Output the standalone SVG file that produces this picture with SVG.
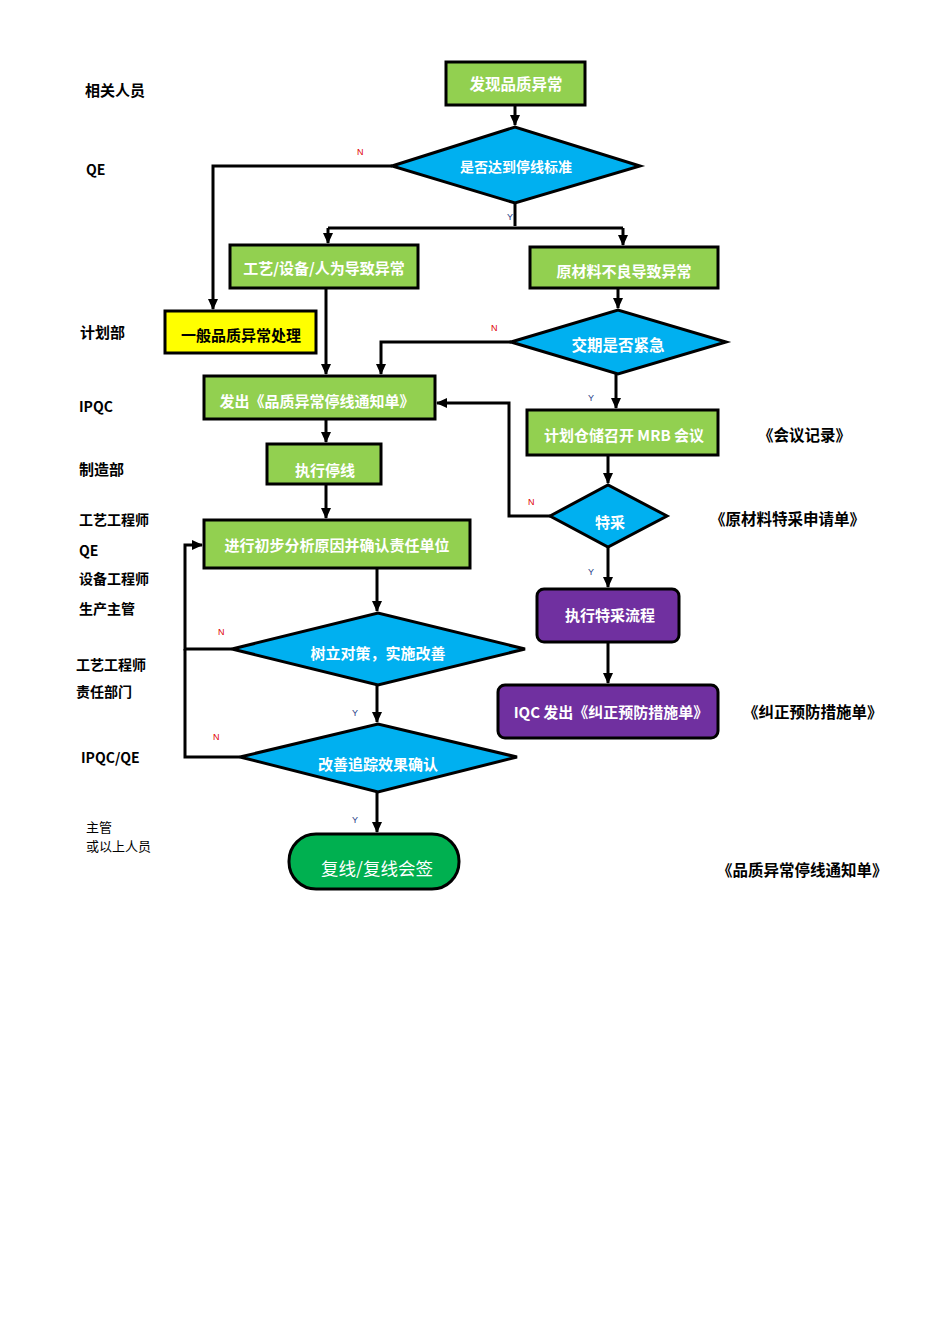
<svg xmlns="http://www.w3.org/2000/svg" width="950" height="1344" viewBox="0 0 950 1344">
<style>
text{font-family:"Noto Sans CJK SC","Liberation Sans",sans-serif;}
.box{fill:#92D050;stroke:#000;stroke-width:3;}
.yel{fill:#FFFF00;stroke:#000;stroke-width:3;}
.pur{fill:#7030A0;stroke:#000;stroke-width:3;}
.dia{fill:#00B0F0;stroke:#000;stroke-width:3;}
.term{fill:#00B050;stroke:#000;stroke-width:3;}
.wt{fill:#fff;font-size:15px;font-weight:bold;text-anchor:middle;dominant-baseline:central;}
.bt{fill:#000;font-size:15px;font-weight:bold;text-anchor:middle;dominant-baseline:central;}
.lab{fill:#000;font-size:14px;font-weight:bold;}
.lab15{fill:#000;font-size:15px;font-weight:bold;}
.doc{fill:#000;font-size:15.5px;font-weight:bold;}
.lab2{fill:#000;font-size:13px;}
.n{fill:#E00000;font-size:9px;font-family:"Liberation Sans",sans-serif;}
.y{fill:#1F3C88;font-size:9px;font-family:"Liberation Sans",sans-serif;}
.c{fill:none;stroke:#000;stroke-width:3;}
</style>
<defs>
<marker id="ah" markerUnits="userSpaceOnUse" markerWidth="12" markerHeight="12" refX="10" refY="6" orient="auto">
<path d="M0,1 L11,6 L0,11 Z" fill="#000"/>
</marker>
</defs>
<rect width="950" height="1344" fill="#fff"/>

<g id="connectors">
<path class="c" d="M515,105 V125" marker-end="url(#ah)"/>
<path class="c" d="M392,166 H213 V309" marker-end="url(#ah)"/>
<path class="c" d="M515,203 V226"/>
<path class="c" d="M328,228 H623"/>
<path class="c" d="M328,228 V243" marker-end="url(#ah)"/>
<path class="c" d="M623,228 V245" marker-end="url(#ah)"/>
<path class="c" d="M618,288 V308" marker-end="url(#ah)"/>
<path class="c" d="M511,342 H381 V374" marker-end="url(#ah)"/>
<path class="c" d="M326,288 V374" marker-end="url(#ah)"/>
<path class="c" d="M616,374 V408" marker-end="url(#ah)"/>
<path class="c" d="M608,455 V483" marker-end="url(#ah)"/>
<path class="c" d="M550,516 H509 V403 H437" marker-end="url(#ah)"/>
<path class="c" d="M608,547 V587" marker-end="url(#ah)"/>
<path class="c" d="M608,642 V683" marker-end="url(#ah)"/>
<path class="c" d="M326,418 V442" marker-end="url(#ah)"/>
<path class="c" d="M326,484 V518" marker-end="url(#ah)"/>
<path class="c" d="M377,568 V611" marker-end="url(#ah)"/>
<path class="c" d="M232,649 H185 V545 H202" marker-end="url(#ah)"/>
<path class="c" d="M240,757 H185 V649"/>
<path class="c" d="M377,685 V722" marker-end="url(#ah)"/>
<path class="c" d="M377,792 V832" marker-end="url(#ah)"/>
<text class="n" x="357" y="155">N</text>
<text class="y" x="507" y="220">Y</text>
<text class="n" x="491" y="331">N</text>
<text class="y" x="588" y="401">Y</text>
<text class="n" x="528" y="505">N</text>
<text class="y" x="588" y="575">Y</text>
<text class="n" x="218" y="635">N</text>
<text class="n" x="213" y="740">N</text>
<text class="y" x="352" y="716">Y</text>
<text class="y" x="352" y="823">Y</text>
</g>

<g id="n1"><rect class="box" x="446" y="62" width="139" height="43"/><text class="wt" x="516" y="83" style="font-size:15.5px">发现品质异常</text></g>
<g id="d1"><polygon class="dia" points="392,166 515,127 640,166 515,203"/><text class="wt" x="516" y="166" style="font-size:14px">是否达到停线标准</text></g>
<g id="n2"><rect class="box" x="230" y="245" width="188" height="43"/><text class="wt" x="324" y="267">工艺/设备/人为导致异常</text></g>
<g id="n3"><rect class="box" x="530" y="247" width="188" height="41"/><text class="wt" x="624" y="270">原材料不良导致异常</text></g>
<g id="n4"><rect class="yel" x="165" y="311" width="151" height="42"/><text class="bt" x="241" y="334">一般品质异常处理</text></g>
<g id="d2"><polygon class="dia" points="511,342 618,310 726,342 618,374"/><text class="wt" x="618" y="344" style="font-size:15.5px">交期是否紧急</text></g>
<g id="n5"><rect class="box" x="204" y="376" width="231" height="43"/><text class="wt" x="317" y="400">发出《品质异常停线通知单》</text></g>
<g id="n6"><rect class="box" x="527" y="410" width="191" height="45"/><text class="wt" x="624" y="434">计划仓储召开 MRB 会议</text></g>
<g id="d3"><polygon class="dia" points="550,516 608,485 667,516 608,547"/><text class="wt" x="610" y="521">特采</text></g>
<g id="n7"><rect class="box" x="267" y="444" width="114" height="40"/><text class="wt" x="325" y="469">执行停线</text></g>
<g id="n8"><rect class="box" x="204" y="520" width="266" height="48"/><text class="wt" x="337" y="544">进行初步分析原因并确认责任单位</text></g>
<g id="n9"><rect class="pur" x="537" y="589" width="142" height="53" rx="7"/><text class="wt" x="610" y="614">执行特采流程</text></g>
<g id="n10"><rect class="pur" x="498" y="685" width="220" height="53" rx="7"/><text class="wt" x="611" y="711">IQC 发出《纠正预防措施单》</text></g>
<g id="d4"><polygon class="dia" points="232,649 378,613 525,649 378,685"/><text class="wt" x="378" y="652">树立对策，实施改善</text></g>
<g id="d5"><polygon class="dia" points="240,757 378,724 517,757 378,792"/><text class="wt" x="378" y="763">改善追踪效果确认</text></g>
<g id="n11"><rect class="term" x="289" y="834" width="170" height="55" rx="27"/><text class="wt" x="377" y="867" style="font-size:17.5px;font-weight:normal">复线/复线会签</text></g>

<g id="labels">
<text class="lab15" x="85" y="96">相关人员</text>
<text class="lab" x="86" y="175">QE</text>
<text class="lab15" x="80" y="338">计划部</text>
<text class="lab" x="79" y="412">IPQC</text>
<text class="lab15" x="79" y="475">制造部</text>
<text class="lab" x="79" y="525">工艺工程师</text>
<text class="lab" x="79" y="556">QE</text>
<text class="lab" x="79" y="584">设备工程师</text>
<text class="lab" x="79" y="614">生产主管</text>
<text class="lab" x="76" y="670">工艺工程师</text>
<text class="lab" x="76" y="697">责任部门</text>
<text class="lab" x="81" y="763">IPQC/QE</text>
<text class="lab2" x="86" y="832">主管</text>
<text class="lab2" x="86" y="851">或以上人员</text>
<text class="doc" x="758" y="441">《会议记录》</text>
<text class="doc" x="710" y="525">《原材料特采申请单》</text>
<text class="doc" x="743" y="718">《纠正预防措施单》</text>
<text class="doc" x="717" y="876">《品质异常停线通知单》</text>
</g>
</svg>
